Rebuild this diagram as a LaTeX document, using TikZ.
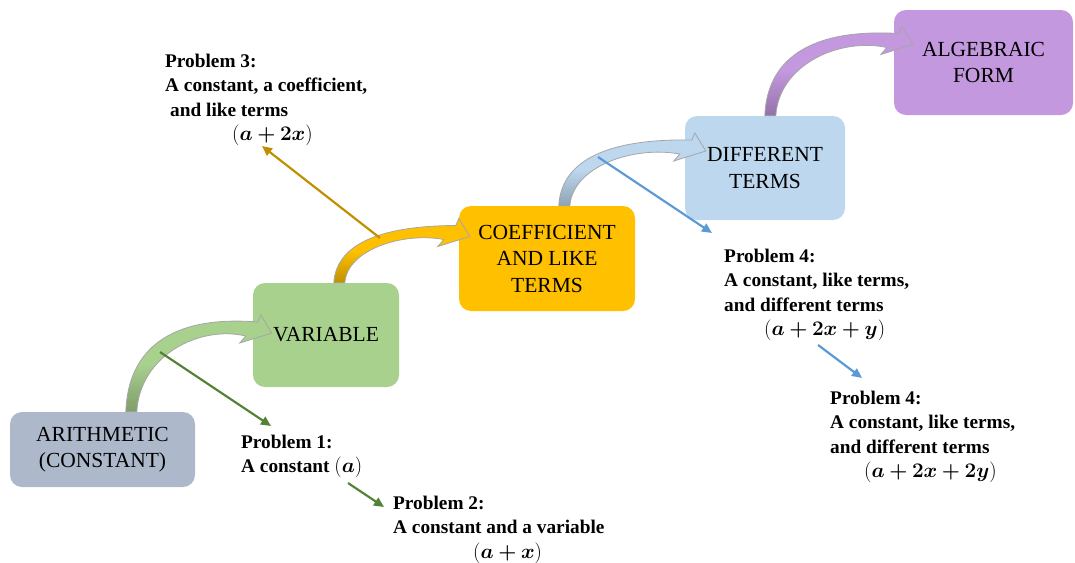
\documentclass[tikz,border=0pt]{standalone}
\usepackage{fontspec}
\setmainfont{Liberation Serif}
\usepackage{amsmath,bm}
\usepackage{tikz}
\usetikzlibrary{calc,arrows.meta}

\definecolor{arithgray}{HTML}{ADB9CA}
\definecolor{vargreen}{HTML}{A9D18E}
\definecolor{coefgold}{HTML}{FFC000}
\definecolor{diffblue}{HTML}{BDD7EE}
\definecolor{algpurple}{HTML}{C398DF}
\definecolor{linegreen}{HTML}{548235}
\definecolor{linegold}{HTML}{BF9000}
\definecolor{lineblue}{HTML}{5B9BD5}
\definecolor{bendgray}{HTML}{A6A6A6}

\tikzset{
  stage/.style={rectangle, rounded corners=12pt, inner sep=0pt, align=center,
    font=\fontsize{21.5}{26.5}\selectfont},
  probtext/.style={anchor=north west, inner sep=0pt, align=left,
    font=\fontsize{19.3}{24.3}\selectfont\bfseries},
  thinarrow/.style={line width=2.2pt, -{Triangle[length=10pt,width=9pt]}},
  bendbody/.style={draw=bendgray, line width=0.8pt},
}

% curved block arrow: base, tip, colour
\newcommand\bendarrow[3]{%
  \path[bendbody, top color=#3, bottom color=#3!75!black, middle color=#3]
    let \p1=(#1), \p2=(#2), \n1={\x2-\x1}, \n2={\y2-\y1} in
    ($(\p1)+(-5,0)$)
    .. controls ({\x1-0.02*\n1},{\y1+0.785*\n2}) and ({\x1+0.277*\n1},{\y1+1.23*\n2}) ..
    ($(\p2)+(-14,-11)$) -- ($(\p2)+(-11,-18)$) -- (\p2)
    -- ($(\p2)+(-32,10)$) -- ($(\p2)+(-26,3)$)
    .. controls ({\x1+0.489*\n1},{\y1+1.10*\n2}) and ({\x1+0.064*\n1},{\y1+0.72*\n2}) ..
    ($(\p1)+(6,0)$) -- cycle;}

\begin{document}
\begin{tikzpicture}[x=1pt, y=-1pt]
    \useasboundingbox (0,0) rectangle (1075,562);

    % stages
    \node[stage, fill=arithgray, minimum width=185pt, minimum height=75pt] (arith) at (102.5,449.5) {ARITHMETIC\\(CONSTANT)};
    \node[stage, fill=vargreen, minimum width=146pt, minimum height=104pt] (variable) at (326,335) {VARIABLE};
    \node[stage, fill=coefgold, minimum width=176pt, minimum height=105pt] (coeff) at (547,258.5) {COEFFICIENT\\AND LIKE\\TERMS};
    \node[stage, fill=diffblue, minimum width=160pt, minimum height=104pt] (diff) at (765,168) {DIFFERENT\\TERMS};
    \node[stage, fill=algpurple, minimum width=179pt, minimum height=105pt] (alg) at (983.5,62.5) {ALGEBRAIC\\FORM};

    % problems
    \node[probtext] (p3) at (165,54) {Problem 3:\\A constant, a coefficient,\\\hspace*{5pt}and like terms\\\hspace*{67pt}$(\bm{a+2x})$};
    \node[probtext] (p1) at (241,435) {Problem 1:\\A constant $(\bm{a})$};
    \node[probtext] (p2) at (393,496) {Problem 2:\\A constant and a variable\\\hspace*{80pt}$(\bm{a+x})$};
    \node[probtext] (p4a) at (724,249) {Problem 4:\\A constant, like terms,\\and different terms\\\hspace*{40pt}$(\bm{a+2x+y})$};
    \node[probtext] (p4b) at (830,391) {Problem 4:\\A constant, like terms,\\and different terms\\\hspace*{34pt}$(\bm{a+2x+2y})$};

    % bases and tips of the block arrows
    \coordinate (b1) at ($(arith.north west)+(121,0)$);
    \coordinate (t1) at ($(variable.west)+(19,-2)$);
    \coordinate (b2) at ($(variable.north west)+(86,0)$);
    \coordinate (t2) at ($(coeff.west)+(11,-22)$);
    \coordinate (b3) at ($(coeff.north west)+(105,0)$);
    \coordinate (t3) at ($(diff.west)+(21,-17)$);
    \coordinate (b4) at ($(diff.north west)+(85,0)$);
    \coordinate (t4) at ($(alg.west)+(19,-18)$);

    \bendarrow{b1}{t1}{vargreen}
    \bendarrow{b2}{t2}{coefgold}
    \bendarrow{b3}{t3}{diffblue}
    \bendarrow{b4}{t4}{algpurple}

    % thin arrows
    \coordinate (g1) at (160,352);
    \coordinate (o1) at (380,238);
    \coordinate (u1) at (598,157);
    \draw[thinarrow, linegreen] (g1) -- ($(p1.north west)+(30,-9)$);
    \draw[thinarrow, linegreen] ($(p1.north west)+(107,48)$) -- ($(p2.north west)+(-9,11)$);
    \draw[thinarrow, linegold] (o1) -- ($(p3.north west)+(97,92)$);
    \draw[thinarrow, lineblue] (u1) -- ($(p4a.north west)+(-12,-16)$);
    \draw[thinarrow, lineblue] ($(p4a.north west)+(94,96)$) -- ($(p4b.north west)+(32,-13)$);
\end{tikzpicture}
\end{document}
